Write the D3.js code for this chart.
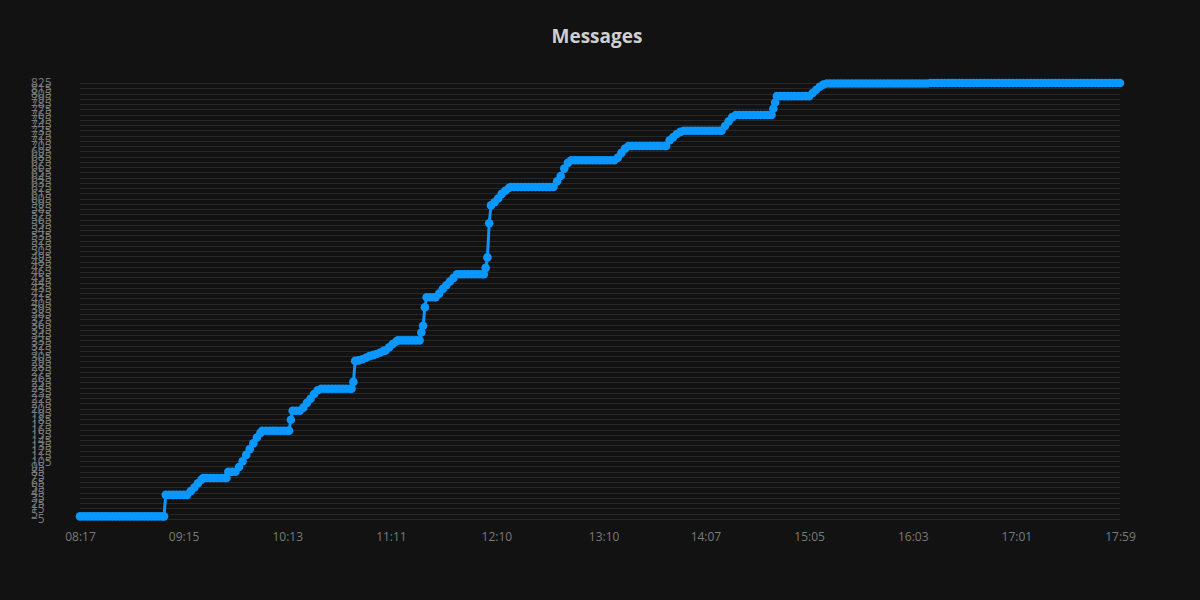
<!DOCTYPE html>
<html>
<head>
<meta charset="utf-8">
<script src="https://cdn.jsdelivr.net/npm/d3@7"></script>
<style>
  html, body { margin: 0; padding: 0; background: #121212; }
  svg { display: block; }
</style>
</head>
<body>
<svg id="chart" width="1200" height="600"></svg>
<script>
const title = "Messages";

const times = [
  "08:17","08:19","08:21","08:23","08:25","08:27","08:29","08:31","08:33","08:35","08:37","08:39","08:41","08:43","08:45","08:47","08:49","08:51","08:53","08:55","08:57","08:59","09:01","09:03","09:04",
  "09:05","09:07","09:09","09:11","09:13","09:15","09:17",
  "09:19","09:21","09:23","09:25","09:26",
  "09:28","09:30","09:32","09:34","09:36","09:38","09:39",
  "09:40","09:42","09:44",
  "09:46","09:48","09:50","09:52","09:54","09:56","09:58","09:59",
  "10:01","10:03","10:05","10:07","10:09","10:11","10:13","10:14",
  "10:15","10:16","10:18","10:20",
  "10:22","10:24","10:26","10:28","10:30","10:32",
  "10:34","10:36","10:38","10:40","10:42","10:44","10:46","10:48","10:49",
  "10:50","10:51","10:53","10:55","10:57","10:59","11:01","11:03","11:05","11:07","11:08",
  "11:10","11:12","11:14","11:15",
  "11:17","11:19","11:21","11:23","11:25","11:27",
  "11:28","11:29","11:30","11:31","11:33","11:35","11:36",
  "11:38","11:40","11:42","11:44","11:46","11:48",
  "11:50","11:52","11:54","11:56","11:58","12:00","12:02","12:03",
  "12:04","12:05","12:06","12:07","12:09","12:11","12:13","12:15","12:17","12:18",
  "12:20","12:22","12:24","12:26","12:28","12:30","12:32","12:34","12:36","12:38","12:40","12:42",
  "12:44","12:46","12:48","12:50","12:52",
  "12:54","12:56","12:58","13:00","13:02","13:04","13:06","13:08","13:10","13:12","13:14","13:16",
  "13:18","13:20","13:22","13:24",
  "13:26","13:28","13:30","13:32","13:34","13:36","13:38","13:40","13:42","13:44","13:45",
  "13:47","13:49","13:51","13:53","13:55",
  "13:57","13:59","14:01","14:03","14:05","14:07","14:09","14:11","14:13","14:15","14:16",
  "14:18","14:20","14:22","14:24",
  "14:26","14:28","14:30","14:32","14:34","14:36","14:38","14:40","14:42","14:44",
  "14:45","14:46","14:47",
  "14:49","14:51","14:53","14:55","14:57","14:59","15:01","15:03","15:05",
  "15:07","15:09","15:11","15:13","15:15",
  "15:17","15:19","15:21","15:23","15:25","15:27","15:29","15:31","15:33","15:35","15:37","15:39","15:41","15:43",
  "15:45","15:47","15:49","15:51","15:53","15:55","15:57","15:59","16:01","16:03","16:05","16:07","16:09","16:11",
  "16:13","16:15","16:17","16:19","16:21","16:23","16:25","16:27","16:29","16:31","16:33","16:35",
  "16:37","16:39","16:41","16:43","16:45","16:47","16:49","16:51","16:53","16:55","16:57","16:59",
  "17:01","17:03","17:05","17:07","17:09","17:11","17:13","17:15","17:17","17:19","17:21","17:23","17:25","17:27","17:29",
  "17:31","17:33","17:35","17:37","17:39","17:41","17:43","17:45","17:47","17:49","17:51","17:53","17:55","17:57","17:59"
];

const counts = [
  0,0,0,0,0,0,0,0,0,0,0,0,0,0,0,0,0,0,0,0,0,0,0,0,0,
  41,41,41,41,41,41,41,
  48,55,63,70,73,
  73,73,73,73,73,73,73,
  85,85,85,
  94,105,117,128,139,150,159,163,
  163,163,163,163,163,163,163,163,
  184,201,201,201,
  207,216,224,233,240,243,
  243,243,243,243,243,243,243,243,243,
  256,296,297,299,302,305,307,309,312,315,316,
  322,328,333,335,
  335,335,335,335,335,335,
  350,363,398,417,417,417,417,
  424,433,440,447,454,461,
  461,461,461,461,461,461,461,461,
  473,493,558,592,598,605,614,620,625,627,
  627,627,627,627,627,627,627,627,627,627,627,627,
  638,648,662,673,678,
  678,678,678,678,678,678,678,678,678,678,678,678,
  683,692,700,705,
  705,705,705,705,705,705,705,705,705,705,705,
  716,722,728,732,734,
  734,734,734,734,734,734,734,734,734,734,734,
  743,752,760,764,
  764,764,764,764,764,764,764,764,764,764,
  776,788,800,
  800,800,800,800,800,800,800,800,800,
  806,812,818,822,824,
  824,824,824,824,824,824,824,824,824,824,824,824,824,824,
  824,824,824,824,824,824,824,824,824,824,824,824,824,824,
  825,825,825,825,825,825,825,825,825,825,825,825,
  825,825,825,825,825,825,825,825,825,825,825,825,
  825,825,825,825,825,825,825,825,825,825,825,825,825,825,825,
  825,825,825,825,825,825,825,825,825,825,825,825,825,825,825
];

const xTickLabels = ["08:17","09:15","10:13","11:11","12:10","13:10","14:07","15:05","16:03","17:01","17:59"];
const yTicks = d3.range(-5, 826, 10);

const parse = d3.timeParse("%H:%M");
const data = times.map((t, i) => ({ t: parse(t), v: counts[i] }));

const svg = d3.select("#chart");
const W = 1200, H = 600;
const m = { left: 80, right: 80, top: 83, bottom: 81 };

svg.append("rect").attr("width", W).attr("height", H).attr("fill", "#121212");

const x = d3.scaleTime()
  .domain([parse(xTickLabels[0]), parse(xTickLabels[xTickLabels.length - 1])])
  .range([m.left, W - m.right]);
const y = d3.scaleLinear()
  .domain([-5, 825])
  .range([H - m.bottom, m.top]);

// gridlines
svg.append("g")
  .selectAll("line")
  .data(yTicks)
  .join("line")
  .attr("x1", m.left).attr("x2", W - m.right)
  .attr("y1", d => Math.round(y(d)) + 0.5).attr("y2", d => Math.round(y(d)) + 0.5)
  .attr("stroke", "#282828")
  .attr("stroke-width", 1);

// y axis labels (left-aligned, as in the reference)
const yAxis = svg.append("g")
  .attr("transform", `translate(${m.left},0)`)
  .call(d3.axisLeft(y).tickValues(yTicks).tickSize(0).tickFormat(d3.format("d")));
yAxis.select(".domain").remove();
yAxis.selectAll("text")
  .attr("x", 31 - m.left)
  .attr("text-anchor", "start")
  .attr("fill", "#7a7a7a")
  .style("font-family", "'Open Sans', 'DejaVu Sans', sans-serif")
  .style("font-size", "12px");

// x axis labels
const xAxis = svg.append("g")
  .attr("transform", `translate(0,${H - m.bottom})`)
  .call(d3.axisBottom(x).tickValues(xTickLabels.map(parse)).tickSize(0).tickPadding(13).tickFormat(d3.timeFormat("%H:%M")));
xAxis.select(".domain").remove();
xAxis.selectAll("text")
  .attr("fill", "#7a7a7a")
  .style("font-family", "'Open Sans', 'DejaVu Sans', sans-serif")
  .style("font-size", "12px");

// title
svg.append("text")
  .attr("x", W / 2 - 3).attr("y", 43)
  .attr("text-anchor", "middle")
  .attr("fill", "#cfcfcf")
  .style("font-family", "'Open Sans', 'DejaVu Sans', sans-serif")
  .style("font-weight", "bold")
  .style("font-size", "19px")
  .text(title);

const color = "#0a97ff";
const line = d3.line().x(d => x(d.t)).y(d => y(d.v));

svg.append("path")
  .datum(data)
  .attr("d", line)
  .attr("fill", "none")
  .attr("stroke", color)
  .attr("stroke-width", 3)
  .attr("stroke-linejoin", "round");

svg.append("g")
  .selectAll("circle")
  .data(data)
  .join("circle")
  .attr("cx", d => x(d.t))
  .attr("cy", d => y(d.v))
  .attr("r", 4.3)
  .attr("fill", color);
</script>
</body>
</html>
